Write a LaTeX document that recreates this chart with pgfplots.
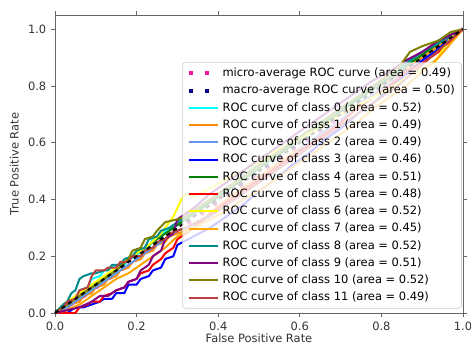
\documentclass[border=0pt]{standalone}
\usepackage{fontspec}
\setmainfont{DejaVu Sans}
\usepackage{pgfplots}
\pgfplotsset{compat=1.18}
\definecolor{c0}{HTML}{00FFFF}
\definecolor{c1}{HTML}{FF8C00}
\definecolor{c2}{HTML}{6495ED}
\definecolor{c3}{HTML}{0000FF}
\definecolor{c4}{HTML}{008000}
\definecolor{c5}{HTML}{FF0000}
\definecolor{c6}{HTML}{FFFF00}
\definecolor{c7}{HTML}{FFA500}
\definecolor{c8}{HTML}{008B8B}
\definecolor{c9}{HTML}{800080}
\definecolor{c10}{HTML}{808000}
\definecolor{c11}{HTML}{B8403F}
\definecolor{micro}{HTML}{FF1493}
\definecolor{macro}{HTML}{000080}
\newcommand{\f}{\fontsize{8.6}{10.3}\selectfont}
\begin{document}
\begin{tikzpicture}
\begin{axis}[
 scale only axis, width=306pt, height=223.5pt,
 xmin=0, xmax=1, ymin=0, ymax=1.05,
 xtick={0,0.2,0.4,0.6,0.8,1}, ytick={0,0.2,0.4,0.6,0.8,1},
 tick align=outside, major tick length=3pt,
 tick style={black!60, line width=0.6pt},
 axis line style={black!60, line width=0.6pt},
 xlabel={False Positive Rate}, ylabel={True Positive Rate},
 xlabel style={yshift=4pt},
 ticklabel style={font=\f, text=black!80},
 label style={font=\f, text=black!80},
 /pgf/number format/assume math mode=true,
 xticklabel style={/pgf/number format/.cd, fixed, fixed zerofill, precision=1},
 yticklabel style={/pgf/number format/.cd, fixed, fixed zerofill, precision=1},
 legend style={at={(0.997,0.015)}, anchor=south east, fill=white, fill opacity=0.8,
   draw opacity=1, text opacity=1, draw=black!20, rounded corners=2pt, font=\f,
   row sep=0.9pt, inner xsep=3pt, inner ysep=2pt},
 legend cell align=left,
 legend image code/.code={\draw[#1] (0pt,0pt) -- (22pt,0pt);},
 every axis plot/.append style={line width=1.5pt, line join=round},
]
\addplot[micro, line width=3pt, dash pattern=on 3pt off 9pt, line cap=butt] coordinates {(0,0)(0.05,0.04)(0.1,0.09)(0.15,0.14)(0.2,0.19)(0.25,0.24)(0.3,0.29)(0.35,0.34)(0.4,0.39)(0.45,0.44)(0.5,0.49)(0.55,0.54)(0.6,0.59)(0.65,0.64)(0.7,0.69)(0.75,0.74)(0.8,0.79)(0.85,0.84)(0.9,0.89)(0.95,0.94)(1,1)};
\addlegendentry{micro-average ROC curve (area = 0.49)}
\addplot[macro, line width=3pt, dash pattern=on 3pt off 9pt, line cap=butt] coordinates {(0,0)(0.1,0.1)(0.2,0.2)(0.3,0.3)(0.4,0.4)(0.5,0.5)(0.6,0.6)(0.7,0.7)(0.8,0.8)(0.9,0.9)(1,1)};
\addlegendentry{macro-average ROC curve (area = 0.50)}
\addplot[c0] coordinates {(0,0)(0.02,0.02)(0.03,0.04)(0.05,0.05)(0.06,0.08)(0.08,0.09)(0.09,0.12)(0.11,0.13)(0.12,0.15)(0.14,0.16)(0.15,0.17)(0.17,0.17)(0.18,0.19)(0.20,0.20)(0.21,0.22)(0.23,0.23)(0.24,0.26)(0.26,0.27)(0.27,0.29)(0.29,0.30)(0.30,0.31)(0.34,0.35)(0.38,0.40)(0.42,0.44)(0.46,0.48)(0.50,0.53)(0.54,0.56)(0.58,0.60)(0.62,0.64)(0.66,0.68)(0.70,0.72)(0.74,0.75)(0.78,0.80)(0.82,0.84)(0.86,0.88)(0.90,0.92)(0.94,0.95)(0.97,0.98)(1,1)};
\addlegendentry{ROC curve of class 0 (area = 0.52)}
\addplot[c1] coordinates {(0,0)(0.03,0.01)(0.04,0.03)(0.06,0.04)(0.07,0.06)(0.09,0.07)(0.10,0.09)(0.12,0.10)(0.13,0.12)(0.15,0.13)(0.16,0.15)(0.18,0.16)(0.19,0.18)(0.21,0.19)(0.22,0.21)(0.24,0.22)(0.25,0.24)(0.27,0.25)(0.28,0.27)(0.30,0.28)(0.34,0.30)(0.38,0.35)(0.42,0.40)(0.46,0.44)(0.50,0.48)(0.54,0.52)(0.58,0.56)(0.62,0.60)(0.66,0.64)(0.70,0.68)(0.74,0.73)(0.78,0.77)(0.82,0.82)(0.86,0.86)(0.90,0.90)(0.94,0.94)(0.97,0.97)(1,1)};
\addlegendentry{ROC curve of class 1 (area = 0.49)}
\addplot[c2] coordinates {(0,0)(0.03,0.02)(0.06,0.05)(0.09,0.08)(0.12,0.11)(0.15,0.14)(0.18,0.17)(0.21,0.20)(0.24,0.23)(0.27,0.26)(0.30,0.29)(0.34,0.31)(0.38,0.34)(0.42,0.38)(0.46,0.43)(0.50,0.47)(0.54,0.51)(0.58,0.55)(0.62,0.60)(0.66,0.64)(0.70,0.68)(0.74,0.73)(0.78,0.77)(0.82,0.81)(0.86,0.85)(0.90,0.89)(0.94,0.93)(0.97,0.97)(1,1)};
\addlegendentry{ROC curve of class 2 (area = 0.49)}
\addplot[c3] coordinates {(0,0)(0.03,0)(0.05,0.02)(0.07,0.02)(0.09,0.03)(0.11,0.04)(0.12,0.05)(0.14,0.05)(0.15,0.07)(0.17,0.07)(0.18,0.10)(0.20,0.10)(0.21,0.12)(0.23,0.13)(0.24,0.15)(0.26,0.16)(0.27,0.19)(0.29,0.20)(0.30,0.24)(0.34,0.27)(0.38,0.30)(0.42,0.34)(0.46,0.38)(0.50,0.43)(0.54,0.47)(0.58,0.52)(0.62,0.56)(0.66,0.61)(0.70,0.65)(0.74,0.70)(0.78,0.74)(0.82,0.79)(0.86,0.84)(0.90,0.89)(0.94,0.93)(0.97,0.97)(1,1)};
\addlegendentry{ROC curve of class 3 (area = 0.46)}
\addplot[c4] coordinates {(0,0)(0.03,0.03)(0.06,0.06)(0.09,0.09)(0.12,0.12)(0.15,0.15)(0.18,0.19)(0.21,0.22)(0.24,0.25)(0.27,0.28)(0.30,0.31)(0.34,0.35)(0.38,0.39)(0.42,0.43)(0.46,0.47)(0.50,0.51)(0.54,0.55)(0.58,0.59)(0.62,0.63)(0.66,0.67)(0.70,0.71)(0.74,0.75)(0.78,0.79)(0.82,0.83)(0.86,0.87)(0.90,0.91)(0.94,0.95)(0.97,0.98)(1,1)};
\addlegendentry{ROC curve of class 4 (area = 0.51)}
\addplot[c5] coordinates {(0,0)(0.03,0)(0.05,0)(0.06,0.02)(0.08,0.03)(0.09,0.04)(0.11,0.04)(0.12,0.06)(0.14,0.07)(0.15,0.08)(0.17,0.09)(0.18,0.11)(0.20,0.12)(0.21,0.14)(0.23,0.15)(0.24,0.17)(0.26,0.19)(0.27,0.21)(0.29,0.23)(0.30,0.26)(0.34,0.30)(0.38,0.35)(0.42,0.39)(0.46,0.43)(0.50,0.47)(0.54,0.51)(0.58,0.55)(0.62,0.59)(0.66,0.63)(0.70,0.67)(0.74,0.72)(0.78,0.76)(0.82,0.80)(0.86,0.85)(0.90,0.88)(0.94,0.92)(0.97,0.96)(1,1)};
\addlegendentry{ROC curve of class 5 (area = 0.48)}
\addplot[c6] coordinates {(0,0)(0.02,0.03)(0.05,0.06)(0.08,0.09)(0.11,0.12)(0.14,0.15)(0.17,0.18)(0.20,0.21)(0.23,0.24)(0.26,0.28)(0.29,0.34)(0.31,0.40)(0.32,0.42)(0.34,0.41)(0.38,0.44)(0.42,0.47)(0.46,0.50)(0.50,0.53)(0.54,0.57)(0.58,0.60)(0.62,0.63)(0.66,0.66)(0.70,0.70)(0.74,0.73)(0.78,0.76)(0.82,0.79)(0.86,0.83)(0.90,0.86)(0.93,0.88)(0.96,0.95)(0.98,0.99)(1,1)};
\addlegendentry{ROC curve of class 6 (area = 0.52)}
\addplot[c7] coordinates {(0,0)(0.03,0.01)(0.06,0.03)(0.09,0.06)(0.12,0.09)(0.15,0.12)(0.18,0.14)(0.21,0.17)(0.24,0.20)(0.27,0.23)(0.30,0.27)(0.34,0.30)(0.38,0.33)(0.42,0.36)(0.46,0.40)(0.50,0.43)(0.54,0.47)(0.58,0.51)(0.62,0.55)(0.66,0.59)(0.70,0.63)(0.74,0.67)(0.78,0.72)(0.82,0.76)(0.86,0.80)(0.90,0.85)(0.94,0.90)(0.97,0.95)(1,1)};
\addlegendentry{ROC curve of class 7 (area = 0.45)}
\addplot[c8] coordinates {(0,0)(0.02,0.03)(0.03,0.04)(0.04,0.07)(0.05,0.08)(0.06,0.12)(0.07,0.13)(0.09,0.14)(0.10,0.14)(0.12,0.15)(0.13,0.15)(0.14,0.17)(0.16,0.17)(0.17,0.19)(0.19,0.20)(0.20,0.22)(0.22,0.23)(0.23,0.26)(0.25,0.27)(0.26,0.29)(0.28,0.30)(0.30,0.32)(0.34,0.36)(0.38,0.40)(0.42,0.44)(0.46,0.48)(0.50,0.52)(0.54,0.56)(0.58,0.60)(0.62,0.64)(0.66,0.68)(0.70,0.72)(0.74,0.76)(0.78,0.80)(0.82,0.84)(0.86,0.88)(0.90,0.92)(0.94,0.95)(0.97,0.98)(1,1)};
\addlegendentry{ROC curve of class 8 (area = 0.52)}
\addplot[c9] coordinates {(0,0)(0.03,0.01)(0.06,0.02)(0.09,0.04)(0.11,0.06)(0.13,0.06)(0.15,0.08)(0.17,0.09)(0.18,0.11)(0.20,0.12)(0.21,0.15)(0.23,0.17)(0.24,0.20)(0.26,0.22)(0.27,0.26)(0.29,0.28)(0.30,0.33)(0.34,0.37)(0.38,0.42)(0.42,0.46)(0.46,0.50)(0.50,0.54)(0.54,0.58)(0.58,0.62)(0.62,0.66)(0.66,0.70)(0.70,0.74)(0.74,0.78)(0.78,0.82)(0.82,0.85)(0.86,0.89)(0.90,0.92)(0.94,0.96)(0.97,0.98)(1,1)};
\addlegendentry{ROC curve of class 9 (area = 0.51)}
\addplot[c10] coordinates {(0,0)(0.03,0.03)(0.06,0.06)(0.09,0.09)(0.12,0.12)(0.15,0.15)(0.18,0.19)(0.19,0.22)(0.21,0.23)(0.22,0.26)(0.24,0.27)(0.25,0.29)(0.27,0.32)(0.30,0.33)(0.32,0.34)(0.36,0.38)(0.40,0.42)(0.44,0.46)(0.48,0.50)(0.52,0.54)(0.56,0.58)(0.60,0.62)(0.64,0.66)(0.68,0.70)(0.72,0.74)(0.76,0.78)(0.80,0.82)(0.84,0.86)(0.87,0.92)(0.90,0.94)(0.94,0.96)(0.97,0.99)(1,1)};
\addlegendentry{ROC curve of class 10 (area = 0.52)}
\addplot[c11] coordinates {(0,0)(0.02,0.02)(0.03,0.04)(0.05,0.05)(0.06,0.08)(0.08,0.09)(0.09,0.13)(0.10,0.15)(0.12,0.15)(0.13,0.16)(0.15,0.16)(0.16,0.18)(0.18,0.18)(0.19,0.20)(0.21,0.20)(0.22,0.22)(0.24,0.23)(0.25,0.25)(0.27,0.26)(0.28,0.28)(0.30,0.29)(0.32,0.30)(0.36,0.33)(0.40,0.36)(0.44,0.40)(0.48,0.44)(0.52,0.48)(0.56,0.52)(0.60,0.56)(0.64,0.60)(0.68,0.64)(0.72,0.68)(0.76,0.72)(0.80,0.76)(0.84,0.80)(0.88,0.85)(0.92,0.90)(0.96,0.95)(1,1)};
\addlegendentry{ROC curve of class 11 (area = 0.49)}
\addplot[black, dashed, line width=1.5pt, forget plot] coordinates {(0,0)(1,1)};
\end{axis}
\pgfresetboundingbox
\path ([xshift=-41.25pt,yshift=-25.5pt]current axis.south west) rectangle ([xshift=6pt,yshift=11.25pt]current axis.north east);
\end{tikzpicture}
\end{document}
